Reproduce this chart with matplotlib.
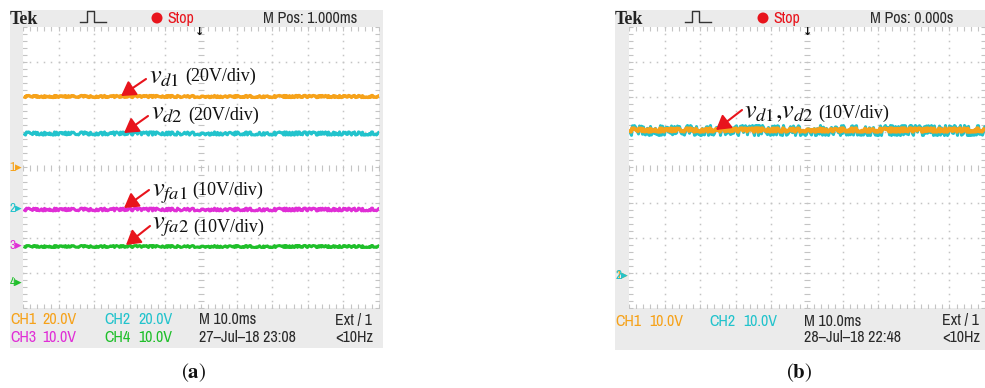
import matplotlib
matplotlib.use('Agg')
import matplotlib.pyplot as plt
import numpy as np
from matplotlib.patches import Rectangle, Ellipse, FancyArrowPatch
from matplotlib.lines import Line2D
from matplotlib import font_manager

plt.rcParams['mathtext.fontset'] = 'stix'

# ---------------- data ----------------
# panel (a)
a_channels = ['CH1', 'CH2', 'CH3', 'CH4']
a_volts_per_div = [20.0, 20.0, 10.0, 10.0]
a_ground_div = [0.0, -1.18, -2.21, -3.29]
a_level_volts = [40.8, 43.2, 10.3, 10.5]
a_scale_text = ['20.0V', '20.0V', '10.0V', '10.0V']
a_time_text = ['M 10.0ms', '27\u2013Jul\u201318 23:08']
a_mpos = 'M Pos: 1.000ms'
a_labels = [r'$v_{d1}$', r'$v_{d2}$', r'$v_{fa1}$', r'$v_{fa2}$']
a_label_units = ['(20V/div)', '(20V/div)', '(10V/div)', '(10V/div)']

# panel (b)
b_channels = ['CH1', 'CH2']
b_volts_per_div = [10.0, 10.0]
b_ground_div = [-3.09, -3.09]
b_level_volts = [41.6, 41.6]
b_scale_text = ['10.0V', '10.0V']
b_time_text = ['M 10.0ms', '28\u2013Jul\u201318 22:48']
b_mpos = 'M Pos: 0.000s'
b_label = r'$v_{d1}{,}v_{d2}$'
b_label_unit = '(10V/div)'

# ---------------- style ----------------
W, H = 985, 388
ch_colors = ['#f6a21a', '#22c3cc', '#e02ed6', '#1fbf2a']
grid_c = '#c4c4c4'
gray_bg = '#ebebeb'
red = '#e8141c'
txt_dark = '#2a2a2a'
serif = ['Liberation Serif', 'DejaVu Serif']

# pick a condensed sans if one is installed
_names = sorted({f.name for f in font_manager.fontManager.ttflist})
_cond = [n for n in _names if ('Narrow' in n or 'Condensed' in n) and 'Mono' not in n and 'Serif' not in n]
if _cond:
    narrow = [_cond[0], 'DejaVu Sans']
    narrow_stretch = 'normal'
    status_fs = 11.5
else:
    narrow = ['DejaVu Sans']
    narrow_stretch = 'condensed'
    status_fs = 9

fig = plt.figure(figsize=(W / 100, H / 100), dpi=100, facecolor='white')


def fx(x):
    return x / W


def fy(y):
    return 1 - y / H


def ftext(x, y, s, **kw):
    return fig.text(fx(x), fy(y), s, **kw)


def ntext(x, y, s, fs=None, **kw):
    return ftext(x, y, s, family=narrow, fontstretch=narrow_stretch,
                 fontsize=fs or status_fs, **kw)


def make_screen(left, gray_l, gray_r, gray_b):
    fig.patches.append(Rectangle((fx(gray_l), fy(gray_b)), (gray_r - gray_l) / W,
                                 (gray_b - 10) / H, transform=fig.transFigure,
                                 facecolor=gray_bg, edgecolor='none', zorder=-5))
    ax = fig.add_axes([fx(left), fy(308), 356 / W, 281 / H])
    ax.set_zorder(2)
    ax.set_facecolor('white')
    ax.set_xlim(-5, 5)
    ax.set_ylim(-4, 4)
    ax.set_xticks([])
    ax.set_yticks([])
    for s in ax.spines.values():
        s.set_visible(False)
    ys = np.arange(-4, 4.001, 0.2)
    xs = np.arange(-5, 5.001, 0.2)
    for gx in range(-4, 5):
        if gx == 0:
            continue
        ax.plot(np.full(len(ys), gx), ys, ls='none', marker='s', ms=1.1, mew=0,
                color=grid_c, zorder=1)
    for gy in range(-3, 4):
        if gy == 0:
            continue
        ax.plot(xs, np.full(len(xs), gy), ls='none', marker='s', ms=1.1, mew=0,
                color=grid_c, zorder=1)
    # centre cross ticks
    ax.plot(xs, np.zeros(len(xs)), ls='none', marker='|', ms=4, mew=0.8, color=grid_c, zorder=1)
    ax.plot(np.zeros(len(ys)), ys, ls='none', marker='_', ms=4, mew=0.8, color=grid_c, zorder=1)
    # edge ticks
    for ex in (-5, 5):
        ax.plot(np.full(len(ys), ex), ys, ls='none', marker='_', ms=6, mew=0.8, color=grid_c, zorder=1)
    for ey in (-4, 4):
        ax.plot(xs, np.full(len(xs), ey), ls='none', marker='|', ms=6, mew=0.8, color=grid_c, zorder=1)
    return ax


def draw_trace(ax, ground, volts, vpd, color, lw, noise):
    level = ground + volts / vpd
    ln, = ax.plot([-5, 5], [level, level], color=color, lw=lw, solid_capstyle='butt', zorder=3)
    ln.set_sketch_params(scale=noise, length=2.0, randomness=6)
    return ln


def top_bar(x0, pulse_x, dot_x, mpos_x, trig_x, mpos):
    ftext(x0, 19, 'Tek', family=serif, weight='bold', fontsize=13, color='#222222',
          ha='left', va='center')
    px = [0, 4, 7, 7, 14, 14, 17, 26]
    py = [0, 0, 0, -11, -11, 0, 0, 0]
    fig.add_artist(Line2D([fx(pulse_x + p) for p in px], [fy(22 + q) for q in py],
                          transform=fig.transFigure, color='#333333', lw=1.0))
    fig.add_artist(Ellipse((fx(dot_x), fy(18)), 11 / W, 11 / H, transform=fig.transFigure,
                           facecolor=red, edgecolor='none'))
    ntext(dot_x + 10, 18.5, 'Stop', fs=status_fs, color=red, ha='left', va='center')
    ntext(mpos_x, 18.5, mpos, fs=status_fs, color=txt_dark, ha='left', va='center')
    ftext(trig_x, 32, '\u2193', family='DejaVu Sans', fontsize=8, weight='bold',
          color='#111111', ha='center', va='center')


def status(xs_, texts, colors):
    for (x, r), t, c in zip(xs_, texts, colors):
        ntext(x, r, t, color=c, ha='left', va='center')


def pointer(x0, y0, x1, y1):
    fig.add_artist(FancyArrowPatch(
        (fx(x0), fy(y0)), (fx(x1), fy(y1)), transform=fig.transFigure,
        arrowstyle='-|>,head_length=5,head_width=3', mutation_scale=1.7,
        color=red, lw=1.5, shrinkA=0, shrinkB=0, zorder=10))


# ---------------- panel (a) ----------------
axa = make_screen(23, 10, 383, 348)
a_lw = [2.4, 2.2, 2.2, 2.2]
a_noise = [1.0, 1.6, 1.4, 1.0]
for i in range(4):
    draw_trace(axa, a_ground_div[i], a_level_volts[i], a_volts_per_div[i],
               ch_colors[i], a_lw[i], a_noise[i])
for i in range(4):
    yy = 167.5 - a_ground_div[i] * 35.1
    ftext(16, yy, str(i + 1) + '\u25B8', family=narrow, fontsize=9.5, color=ch_colors[i],
          ha='center', va='center')
top_bar(10, 80, 157, 263, 200, a_mpos)
status([(10, 320), (42, 320), (104, 320), (138, 320)],
       ['CH1', a_scale_text[0], 'CH2', a_scale_text[1]],
       [ch_colors[0], ch_colors[0], ch_colors[1], ch_colors[1]])
status([(10, 337), (42, 337), (104, 337), (138, 337)],
       ['CH3', a_scale_text[2], 'CH4', a_scale_text[3]],
       [ch_colors[2], ch_colors[2], ch_colors[3], ch_colors[3]])
ntext(199, 320, a_time_text[0], color=txt_dark, ha='left', va='center')
ntext(199, 337, a_time_text[1], color=txt_dark, ha='left', va='center')
ntext(335, 320, 'Ext / 1', color=txt_dark, ha='left', va='center')
ntext(335, 337, '<10Hz', color=txt_dark, ha='left', va='center')

a_lab_xy = [(149, 83), (151, 119), (152, 196), (152, 229)]
a_unit_x = [185, 188, 192, 193]
a_unit_y = [76, 115, 190, 227]
a_arrow = [((146, 79), (121, 96)), ((148, 116), (124, 133)),
           ((149, 190), (124, 208)), ((150, 226), (126, 245))]
for i in range(4):
    ftext(a_lab_xy[i][0], a_lab_xy[i][1], a_labels[i], fontsize=19, color='#111111',
          ha='left', va='baseline', zorder=10)
    ftext(a_unit_x[i], a_unit_y[i], a_label_units[i], family=serif, fontsize=13,
          color='#111111', ha='left', va='center', zorder=10)
    pointer(a_arrow[i][0][0], a_arrow[i][0][1], a_arrow[i][1][0], a_arrow[i][1][1])

ftext(194, 373, r'$(\mathbf{a})$', fontsize=15, color='#111111', ha='center', va='center')

# ---------------- panel (b) ----------------
axb = make_screen(629, 615, 985, 350)
b_lw = [2.8, 2.2]
b_noise = [1.8, 5.0]
for i in [1, 0]:
    draw_trace(axb, b_ground_div[i], b_level_volts[i], b_volts_per_div[i],
               ch_colors[i], b_lw[i], b_noise[i])
yy = 167.5 - b_ground_div[1] * 35.1
ftext(622, yy, '1\u25B8', family=narrow, fontsize=9.5, color=ch_colors[0], ha='center', va='center')
ftext(622, yy, '2\u25B8', family=narrow, fontsize=9.5, color=ch_colors[1], ha='center', va='center')
top_bar(615, 685, 763, 870, 808, b_mpos)
status([(615, 321), (649, 321), (709, 321), (743, 321)],
       ['CH1', b_scale_text[0], 'CH2', b_scale_text[1]],
       [ch_colors[0], ch_colors[0], ch_colors[1], ch_colors[1]])
ntext(804, 321, b_time_text[0], color=txt_dark, ha='left', va='center')
ntext(804, 338, b_time_text[1], color=txt_dark, ha='left', va='center')
ntext(942, 321, 'Ext / 1', color=txt_dark, ha='left', va='center')
ntext(942, 338, '<10Hz', color=txt_dark, ha='left', va='center')

ftext(744, 118, b_label, fontsize=19, color='#111111', ha='left', va='baseline', zorder=10)
ftext(818, 113, b_label_unit, family=serif, fontsize=13, color='#111111', ha='left',
      va='center', zorder=10)
pointer(742, 110, 716, 130)

ftext(799, 373, r'$(\mathbf{b})$', fontsize=15, color='#111111', ha='center', va='center')

fig.savefig('out.png', dpi=100, facecolor='white')
